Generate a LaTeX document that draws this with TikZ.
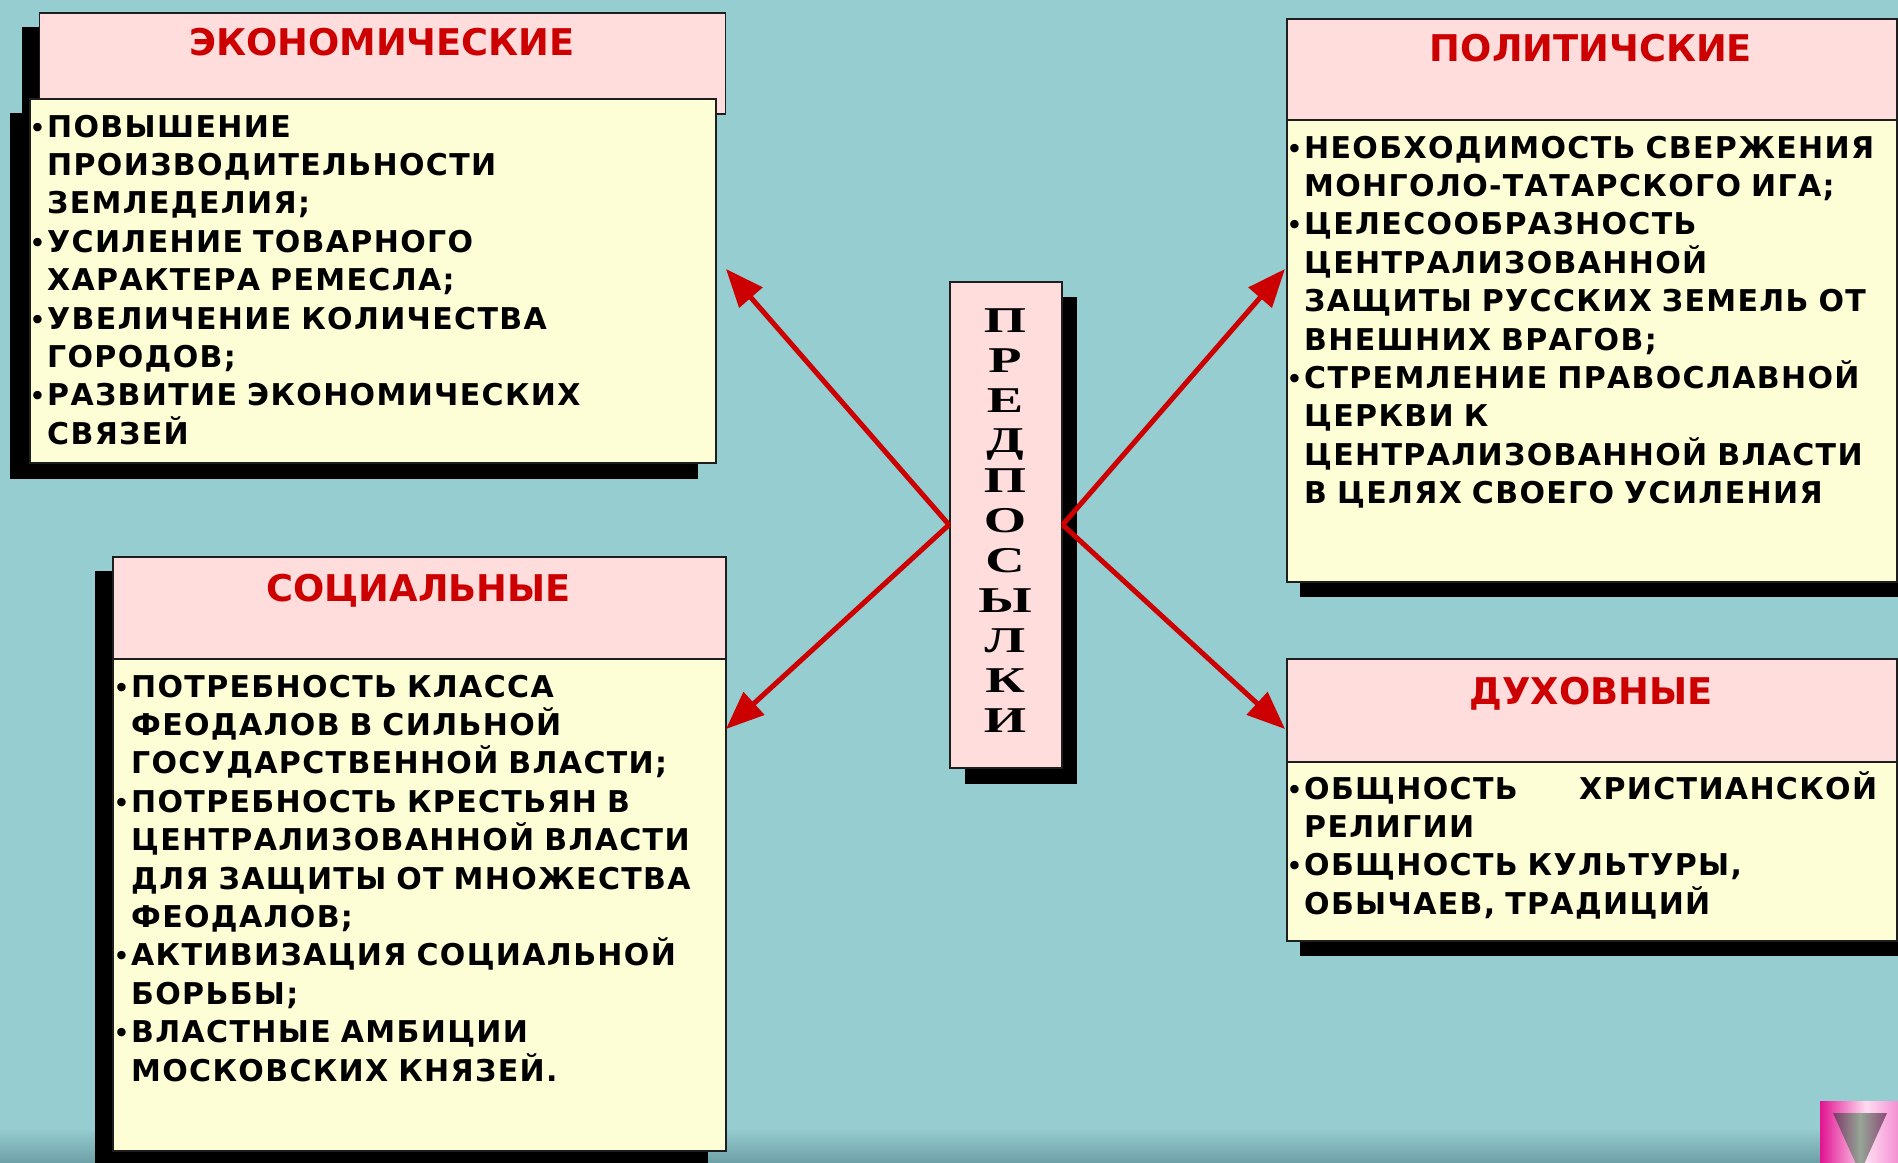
\documentclass[tikz,border=0pt]{standalone}
\usepackage{fontspec}
\usepackage{graphicx}
\setmainfont{DejaVu Sans}
\newfontfamily\bodyf{DejaVu Sans}[LetterSpace=4.5]
\newfontfamily\serifb{Liberation Serif}
\usetikzlibrary{arrows.meta}
\definecolor{bg}{RGB}{150,205,208}
\definecolor{bgdark}{RGB}{110,160,168}
\definecolor{hdr}{RGB}{255,221,221}
\definecolor{bodyc}{RGB}{254,254,214}
\definecolor{ttlc}{RGB}{204,0,0}
\definecolor{arrc}{RGB}{204,0,0}
\definecolor{edgec}{RGB}{30,30,30}
\definecolor{magA}{RGB}{225,20,145}
\definecolor{magB}{RGB}{255,220,242}
\definecolor{magC}{RGB}{238,110,195}
\definecolor{triA}{RGB}{125,60,105}
\definecolor{triB}{RGB}{150,165,150}
\definecolor{triC}{RGB}{140,75,120}
\newcommand\bl{\leavevmode\llap{\raisebox{1pt}{\fontsize{24}{24}\selectfont •}\kern2pt}}
\tikzset{
  hbox/.style={draw=edgec, line width=1.6pt, fill=hdr, anchor=north west, inner sep=0pt},
  bbox/.style={draw=edgec, line width=1.6pt, fill=bodyc, anchor=north west, inner sep=0pt},
  cbox/.style={draw=edgec, line width=1.6pt, fill=hdr, anchor=north west, inner sep=0pt},
  shad/.style={fill=black},
  ttl/.style={anchor=base, inner sep=0pt, text=ttlc, font=\bfseries\fontsize{36.8}{40}\selectfont},
  txt/.style={anchor=base west, inner sep=0pt, align=left, text width=620pt,
    font=\bodyf\bfseries\fontsize{30}{38.4}\selectfont},
  letr/.style={anchor=base, inner sep=0pt, font=\serifb\bfseries\fontsize{36.3}{40}\selectfont},
  arrow/.style={draw=arrc, line width=5pt, -{Triangle[length=38pt,width=30pt]}}
}
\begin{document}
\begin{tikzpicture}[x=1pt,y=-1pt]
\path[use as bounding box] (0,0) rectangle (1898,1162);
\clip (0,0) rectangle (1898,1162);
\fill[bg] (0,0) rectangle (1898,1162);
\shade[top color=bg, bottom color=bgdark] (0,1128) rectangle (1898,1162);

% ---------- Economic ----------
\fill[shad] (21.7,27) rectangle (708,128);
\fill[shad] (10,113) rectangle (698,479);
\node[hbox, minimum width=686pt, minimum height=101pt] (econH) at (38.7,12) {};
\node[bbox, minimum width=686pt, minimum height=364pt] (econB) at (29,98) {};
\node[ttl] (econT) at (382,55) {ЭКОНОМИЧЕСКИЕ};
\node[txt] (econX) at (47,137) {\bl ПОВЫШЕНИЕ\\
ПРОИЗВОДИТЕЛЬНОСТИ\\
ЗЕМЛЕДЕЛИЯ;\\
\bl УСИЛЕНИЕ ТОВАРНОГО\\
ХАРАКТЕРА РЕМЕСЛА;\\
\bl УВЕЛИЧЕНИЕ КОЛИЧЕСТВА\\
ГОРОДОВ;\\
\bl РАЗВИТИЕ ЭКОНОМИЧЕСКИХ\\
СВЯЗЕЙ};

% ---------- Political ----------
\fill[shad] (1300,34) rectangle (1912,135);
\fill[shad] (1300,135) rectangle (1912,597);
\node[hbox, minimum width=610pt, minimum height=101pt] (polH) at (1286,18) {};
\node[bbox, minimum width=610pt, minimum height=462pt] (polB) at (1286,119) {};
\node[ttl] (polT) at (1591,61) {ПОЛИТИЧСКИЕ};
\node[txt] (polX) at (1304,158) {\bl НЕОБХОДИМОСТЬ СВЕРЖЕНИЯ\\
МОНГОЛО-ТАТАРСКОГО ИГА;\\
\bl ЦЕЛЕСООБРАЗНОСТЬ\\
ЦЕНТРАЛИЗОВАННОЙ\\
ЗАЩИТЫ РУССКИХ ЗЕМЕЛЬ ОТ\\
ВНЕШНИХ ВРАГОВ;\\
\bl СТРЕМЛЕНИЕ ПРАВОСЛАВНОЙ\\
ЦЕРКВИ К\\
ЦЕНТРАЛИЗОВАННОЙ ВЛАСТИ\\
В ЦЕЛЯХ СВОЕГО УСИЛЕНИЯ};

% ---------- Social ----------
\fill[shad] (95,571) rectangle (708,1170);
\node[hbox, minimum width=613pt, minimum height=102pt] (socH) at (112,556) {};
\node[bbox, minimum width=613pt, minimum height=492pt] (socB) at (112,658) {};
\node[ttl] (socT) at (418.5,601) {СОЦИАЛЬНЫЕ};
\node[txt] (socX) at (131,697) {\bl ПОТРЕБНОСТЬ КЛАССА\\
ФЕОДАЛОВ В СИЛЬНОЙ\\
ГОСУДАРСТВЕННОЙ ВЛАСТИ;\\
\bl ПОТРЕБНОСТЬ КРЕСТЬЯН В\\
ЦЕНТРАЛИЗОВАННОЙ ВЛАСТИ\\
ДЛЯ ЗАЩИТЫ ОТ МНОЖЕСТВА\\
ФЕОДАЛОВ;\\
\bl АКТИВИЗАЦИЯ СОЦИАЛЬНОЙ\\
БОРЬБЫ;\\
\bl ВЛАСТНЫЕ АМБИЦИИ\\
МОСКОВСКИХ КНЯЗЕЙ.};

% ---------- Spiritual ----------
\fill[shad] (1300,674) rectangle (1912,956);
\node[hbox, minimum width=610pt, minimum height=103pt] (spiH) at (1286,658) {};
\node[bbox, minimum width=610pt, minimum height=179pt] (spiB) at (1286,761) {};
\node[ttl] (spiT) at (1591,704) {ДУХОВНЫЕ};
\node[txt] (spiX) at (1304,799) {\makebox[573pt][l]{\bl ОБЩНОСТЬ\hfill ХРИСТИАНСКОЙ}\\
РЕЛИГИИ\\
\bl ОБЩНОСТЬ КУЛЬТУРЫ,\\
ОБЫЧАЕВ, ТРАДИЦИЙ};

% ---------- Centre ----------
\fill[shad] (965,297) rectangle (1077,784);
\node[cbox, minimum width=112pt, minimum height=486pt] (ctr) at (949,281) {};
\foreach \ch [count=\i from 0] in {П,Р,Е,Д,П,О,С,Ы,Л,К,И}
  \node[letr] (L\i) at (1005,{332+40*\i}) {\scalebox{1.5}[1]{\ch}};

% ---------- Arrows ----------
\coordinate (tE) at (726,269);
\coordinate (tS) at (726,729);
\coordinate (tP) at (1285,269);
\coordinate (tD) at (1285,729);
\draw[arrow] (ctr.west) -- (tE);
\draw[arrow] (ctr.west) -- (tS);
\draw[arrow] (ctr.east) -- (tP);
\draw[arrow] (ctr.east) -- (tD);

% ---------- Navigation button ----------
\shade[left color=magA, right color=magC, middle color=magB] (1820,1101) rectangle (1912,1175);
\shade[left color=triA, right color=triC, middle color=triB] (1833,1113) -- (1887,1113) -- (1860,1173) -- cycle;
\end{tikzpicture}
\end{document}
